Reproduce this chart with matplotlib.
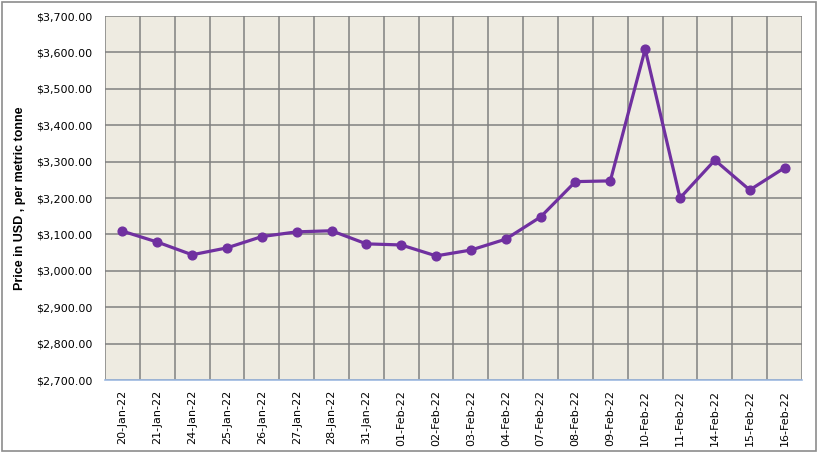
import matplotlib.pyplot as plt
from matplotlib.patches import Rectangle
from matplotlib.ticker import FuncFormatter, MultipleLocator
import numpy as np

dates = ['20-Jan-22', '21-Jan-22', '24-Jan-22', '25-Jan-22', '26-Jan-22',
         '27-Jan-22', '28-Jan-22', '31-Jan-22', '01-Feb-22', '02-Feb-22',
         '03-Feb-22', '04-Feb-22', '07-Feb-22', '08-Feb-22', '09-Feb-22',
         '10-Feb-22', '11-Feb-22', '14-Feb-22', '15-Feb-22', '16-Feb-22']
prices = [3109, 3079, 3044, 3063, 3094, 3107, 3110, 3074, 3071, 3041,
          3057, 3087, 3148, 3245, 3247, 3609, 3200, 3304, 3222, 3283]

fig = plt.figure(figsize=(8.18, 4.53), dpi=100)
# outer chart border
fig.patches.append(Rectangle((0.003, 0.005), 0.994, 0.99, transform=fig.transFigure,
                             fill=False, edgecolor='#8c8c8c', linewidth=1.2))

ax = fig.add_axes([105 / 818, 1 - 380 / 453, 697 / 818, 364 / 453])
ax.set_facecolor('#EEEBE1')

x = np.arange(len(dates))
ax.plot(x, prices, color='#7030A0', linewidth=2.3, marker='o', markersize=6.3, zorder=3)

ax.set_xlim(-0.5, len(dates) - 0.5)
ax.set_ylim(2700, 3700)
ax.yaxis.set_major_locator(MultipleLocator(100))
ax.yaxis.set_major_formatter(FuncFormatter(lambda v, p: f'${v:,.2f}'))

ax.set_xticks(x)
ax.set_xticklabels(dates, rotation=90, fontsize=8)
ax.set_xticks(np.arange(-0.5, len(dates)), minor=True)
ax.tick_params(axis='x', which='both', length=0, pad=7)
ax.tick_params(axis='y', length=0, labelsize=8, pad=9)

ax.grid(True, axis='y', color='#808080', linewidth=1.1)
ax.grid(True, axis='x', which='minor', color='#808080', linewidth=1.1)
ax.grid(False, axis='x', which='major')
ax.set_axisbelow(True)

for s in ['top', 'left', 'right']:
    ax.spines[s].set_visible(False)
ax.spines['bottom'].set_color('#9DB9E0')
ax.spines['bottom'].set_linewidth(1.2)

ax.set_ylabel('Price in USD , per metric tonne', fontsize=9, fontweight='bold',
              family='Liberation Sans')
ax.yaxis.set_label_coords(-104 / 697 + 25 / 697, 0.5)

fig.savefig('out.png', dpi=100)
